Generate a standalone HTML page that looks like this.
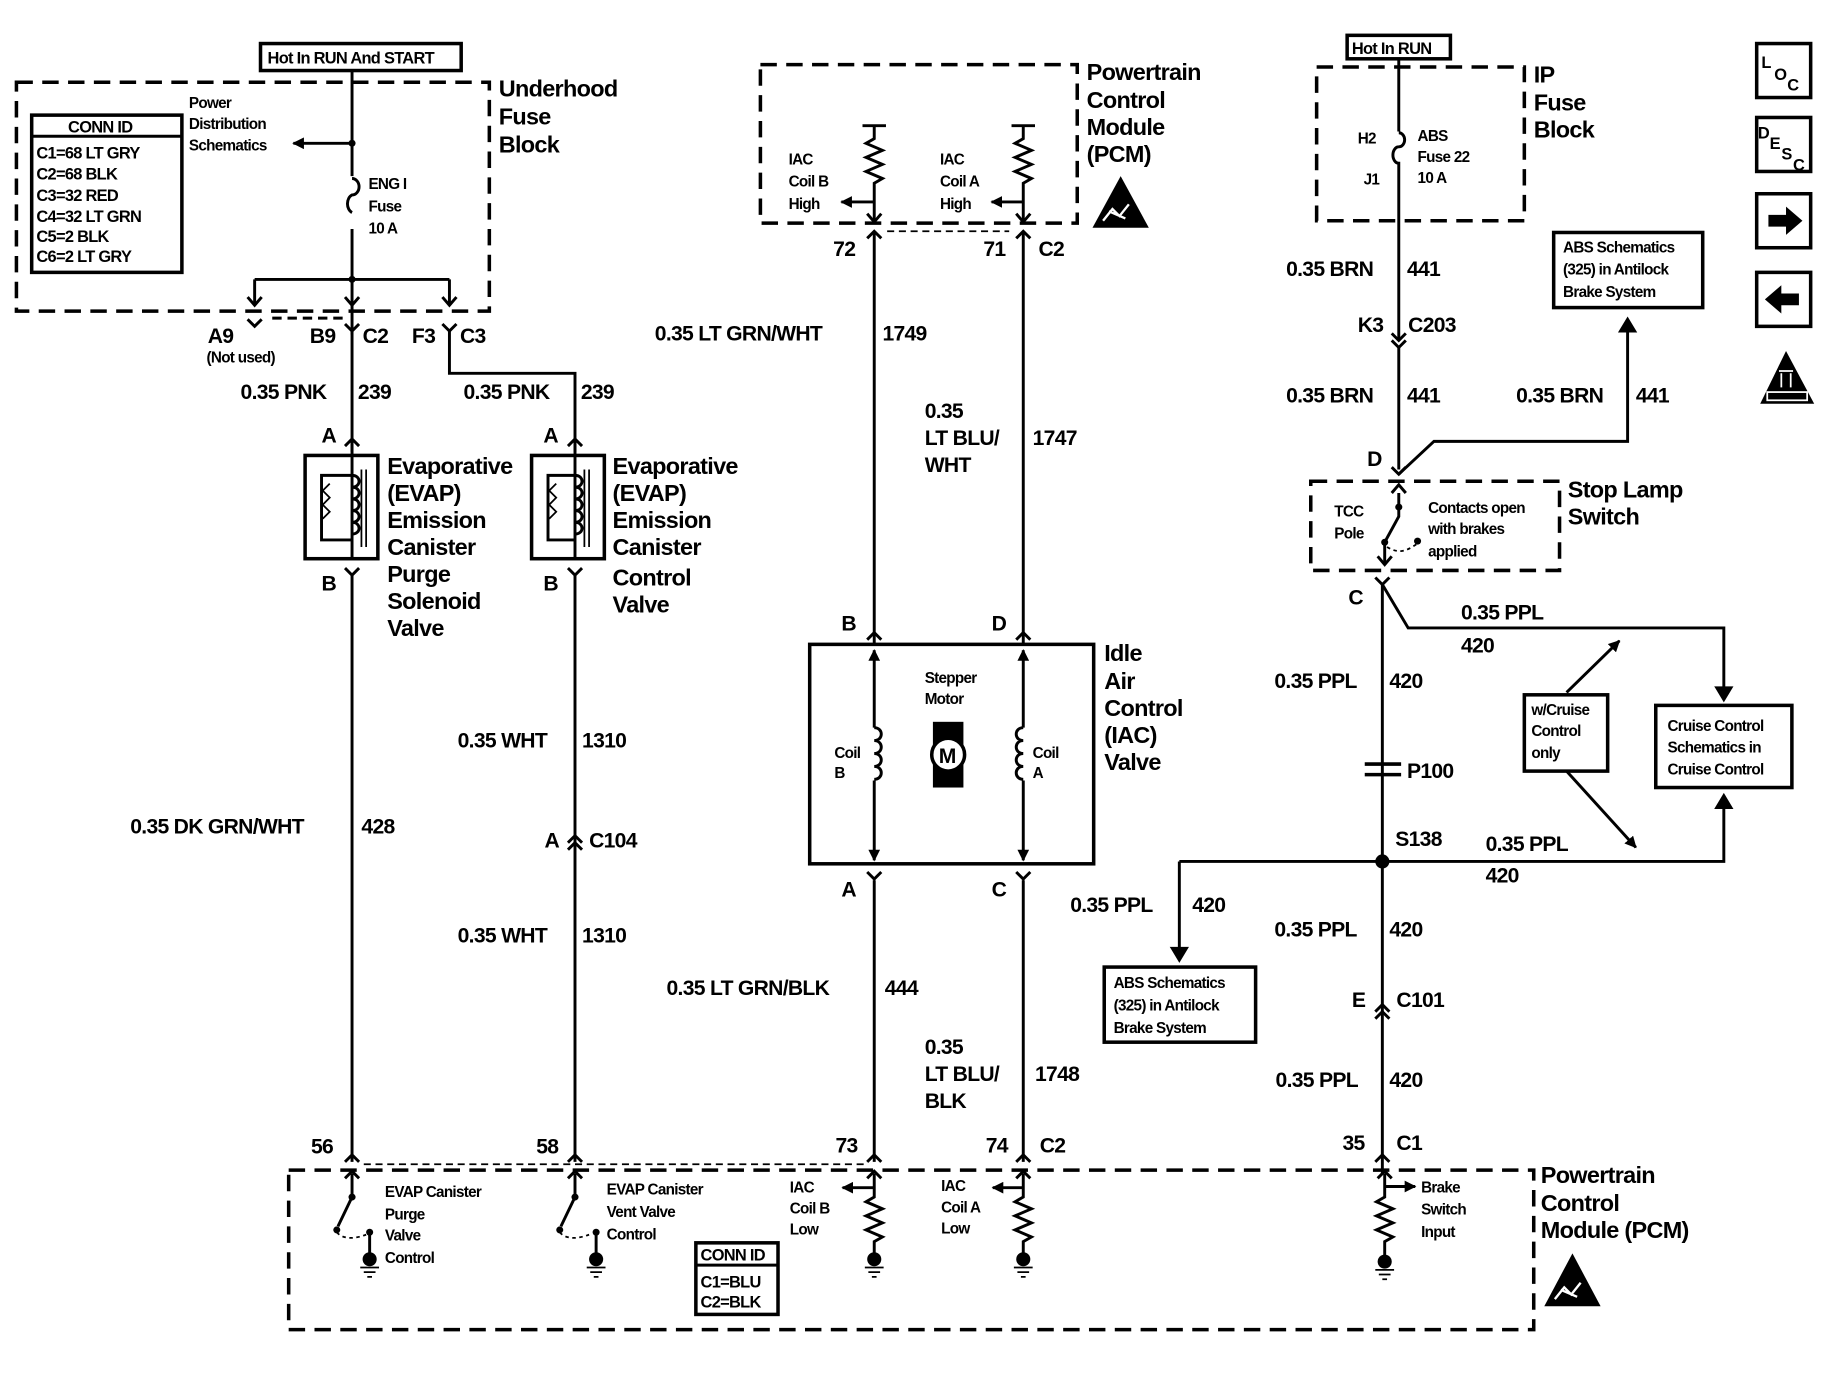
<!DOCTYPE html>
<html><head><meta charset="utf-8"><style>
html,body{margin:0;padding:0;background:#fff;}
svg{display:block}
text{font-family:"Liberation Sans",sans-serif;font-weight:bold;fill:#000;letter-spacing:-0.6px}
.L{font-size:20px}.M{font-size:18px}.S{font-size:14px}.T{font-size:13px}
</style></head><body>
<svg width="1840" height="1392" viewBox="0 0 1568 1186" xmlns="http://www.w3.org/2000/svg">
<defs>
<marker id="ah" markerWidth="10" markerHeight="10" refX="9" refY="5" orient="auto" markerUnits="userSpaceOnUse"><path d="M0,0 L10,5 L0,10 Z" fill="#000"/></marker>
</defs>
<g fill="none" stroke="#000" stroke-width="2.5">
<rect x="222" y="37" width="171" height="23" stroke-width="3"/>
<rect x="14" y="70" width="403" height="195" stroke-dasharray="14,8" stroke-width="3"/>
<rect x="27" y="98" width="128" height="134" stroke-width="3"/>
<line x1="27" y1="116" x2="155" y2="116"/>
<path d="M300 60 V150 M300 195 V285"/>
<path d="M300 152 a6 7 0 0 1 0 14 a6 8 0 0 0 0 15" />
<line x1="300" y1="122" x2="250" y2="122" marker-end="url(#ah)"/>
<path d="M217 238 H383 M217 238 V260 M383 238 V260"/>
<path d="M211 253 l6 7 l6 -7 M294 253 l6 7 l6 -7 M377 253 l6 7 l6 -7"/>
<path d="M211 272 l6 6 l6 -6 M294 276 l6 6 l6 -6 M377 276 l6 6 l6 -6"/>
<path d="M232 271 H294" stroke-dasharray="8,5"/>
<path d="M300 282 V385 M383 282 V318 H490 V385"/>
<rect x="260" y="388" width="62" height="88" stroke-width="3"/>
<rect x="453" y="388" width="62" height="88" stroke-width="3"/>
<path d="M300 376 V476 M490 376 V476"/>
<path d="M294 380 l6 -6 l6 6 M484 380 l6 -6 l6 6 M294 484 l6 6 l6 -6 M484 484 l6 6 l6 -6"/>
<path d="M300 405 H274 V460 H300 M490 405 H467 V460 H490"/>
<path d="M300 405 c8 0 8 10 0 10 c8 0 8 10 0 10 c8 0 8 10 0 10 c8 0 8 10 0 10 c8 0 8 10 0 10 M490 405 c8 0 8 10 0 10 c8 0 8 10 0 10 c8 0 8 10 0 10 c8 0 8 10 0 10 c8 0 8 10 0 10"/>
<path d="M281 412 l-6 6 l6 6 l-6 6 l6 6 l-6 6 M474 412 l-6 6 l6 6 l-6 6 l6 6 l-6 6" stroke-width="1.5"/>
<path d="M308 400 V466 M312 400 V466 M498 400 V466 M502 400 V466" stroke-width="1.5"/>
<path d="M300 490 V990 M490 490 V990"/>
<path d="M484 718 l6 -6 l6 6 M484 724 l6 -6 l6 6"/>
<rect x="648" y="55" width="270" height="135" stroke-dasharray="14,8" stroke-width="3"/>
<path d="M745 108 V118 l-7 4 l14 6 l-14 6 l14 6 l-14 6 l14 6 l-7 4 V190 M872 108 V118 l-7 4 l14 6 l-14 6 l14 6 l-14 6 l14 6 l-7 4 V190"/>
<path d="M735 107 H755 M862 107 H882"/>
<line x1="745" y1="172" x2="717" y2="172" marker-end="url(#ah)"/>
<line x1="872" y1="172" x2="845" y2="172" marker-end="url(#ah)"/>
<path d="M739 182 l6 7 l6 -7 M866 182 l6 7 l6 -7"/>
<path d="M739 203 l6 -6 l6 6 M866 203 l6 -6 l6 6"/>
<path d="M756 197 H860" stroke-dasharray="6,4" stroke-width="1.5"/>
<path d="M745 197 V550 M872 197 V550"/>
<rect x="690" y="549" width="242" height="187" stroke-width="3"/>
<path d="M739 545 l6 -6 l6 6 M866 545 l6 -6 l6 6 M739 743 l6 6 l6 -6 M866 743 l6 6 l6 -6"/>
<line x1="745" y1="620" x2="745" y2="554" marker-end="url(#ah)"/>
<line x1="872" y1="620" x2="872" y2="554" marker-end="url(#ah)"/>
<line x1="745" y1="665" x2="745" y2="733" marker-end="url(#ah)"/>
<line x1="872" y1="665" x2="872" y2="733" marker-end="url(#ah)"/>
<path d="M745 620 c8 0 8 11 0 11 c8 0 8 11 0 11 c8 0 8 11 0 11 c8 0 8 11 0 11 M872 620 c-8 0 -8 11 0 11 c-8 0 -8 11 0 11 c-8 0 -8 11 0 11 c-8 0 -8 11 0 11"/>
<path d="M745 750 V990 M872 750 V990"/>
<rect x="1148" y="30" width="88" height="20" stroke-width="3"/>
<rect x="1122" y="57" width="177" height="131" stroke-dasharray="14,8" stroke-width="3"/>
<path d="M1192 50 V112 M1192 152 V290"/>
<path d="M1192 113 a5 6 0 0 1 0 12 a5 7 0 0 0 0 14 V152"/>
<path d="M1186 284 l6 6 l6 -6 M1186 290 l6 6 l6 -6"/>
<path d="M1192 296 V400"/>
<path d="M1186 398 l6 6 l6 -6"/>
<path d="M1192 404 L1222 376 H1387 V276"/>
<path d="M1381 282 l6 -10 l6 10 Z" fill="#000"/>
<rect x="1117" y="410" width="212" height="76" stroke-dasharray="14,8" stroke-width="3"/>
<path d="M1192 420 V440 L1180 462 V480"/>
<path d="M1186 420 l6 -7 l6 7 M1174 474 l6 7 l6 -7"/>
<path d="M1182 466 c10 6 16 4 26 -3" stroke-dasharray="3,3" stroke-width="1.5"/>
<path d="M1172 492 l6 6 l6 -6"/>
<path d="M1178 498 V1000"/>
<path d="M1178 498 L1200 535 H1469 V590"/>
<path d="M1463 586 l6 10 l6 -10 Z" fill="#000"/>
<path d="M1163 651 H1194 M1163 660 H1194" stroke-width="3"/>
<path d="M1005 734 H1469 V685"/>
<path d="M1463 688 l6 -10 l6 10 Z" fill="#000"/>
<path d="M1005 734 V812"/>
<path d="M999 808 l6 10 l6 -10 Z" fill="#000"/>
<line x1="1335" y1="590" x2="1380" y2="546" marker-end="url(#ah)"/>
<line x1="1335" y1="657" x2="1394" y2="722" marker-end="url(#ah)"/>
<rect x="1299" y="592" width="71" height="65" stroke-width="3"/>
<rect x="1411" y="601" width="116" height="70" stroke-width="3"/>
<rect x="1324" y="198" width="127" height="64" stroke-width="3"/>
<rect x="941" y="824" width="129" height="64" stroke-width="3"/>
<path d="M1172 862 l6 -6 l6 6 M1172 868 l6 -6 l6 6"/>
<rect x="246" y="997" width="1061" height="136" stroke-dasharray="14,8" stroke-width="3"/>
<path d="M294 990 l6 -6 l6 6 M484 990 l6 -6 l6 6 M739 990 l6 -6 l6 6 M866 990 l6 -6 l6 6 M1172 990 l6 -6 l6 6"/>
<path d="M310 992 H738" stroke-dasharray="6,4" stroke-width="1.5"/>
<path d="M300 1000 V1020 L288 1045 M490 1000 V1020 L478 1045"/>
<path d="M294 1004 l6 -6 l6 6 M484 1004 l6 -6 l6 6"/>
<path d="M287 1050 c5 6 15 6 25 2 M477 1050 c5 6 15 6 25 2" stroke-dasharray="3,3" stroke-width="1.5"/>
<path d="M315 1050 V1070 M508 1050 V1070"/>
<path d="M745 1000 V1020 l-7 4 l14 6 l-14 6 l14 6 l-14 6 l14 6 l-7 4 V1070 M872 1000 V1020 l-7 4 l14 6 l-14 6 l14 6 l-14 6 l14 6 l-7 4 V1070 M1180 1000 V1020 l-7 4 l14 6 l-14 6 l14 6 l-14 6 l14 6 l-7 4 V1072"/>
<line x1="745" y1="1012" x2="718" y2="1012" marker-end="url(#ah)"/>
<line x1="872" y1="1012" x2="846" y2="1012" marker-end="url(#ah)"/>
<line x1="1180" y1="1011" x2="1206" y2="1011" marker-end="url(#ah)"/>
<path d="M739 1004 l6 -6 l6 6 M866 1004 l6 -6 l6 6 M1174 1004 l6 -6 l6 6"/>
<path d="M307 1080 H323 M310 1084 H320 M313 1088 H317 M500 1080 H516 M503 1084 H513 M506 1088 H510 M737 1080 H753 M740 1084 H750 M743 1088 H747 M864 1080 H880 M867 1084 H877 M870 1088 H874 M1172 1082 H1188 M1175 1086 H1185 M1178 1090 H1182" stroke-width="1.5"/>
<rect x="593" y="1059" width="70" height="61" stroke-width="3"/>
<line x1="593" y1="1078" x2="663" y2="1078"/>
</g>
<g fill="#000">
<circle cx="300" cy="122" r="3"/><circle cx="300" cy="238" r="3"/>
<circle cx="1178" cy="734" r="6"/>
<rect x="795" y="615" width="26" height="56"/>
<circle cx="808" cy="643" r="14" fill="#fff" stroke="#000" stroke-width="3"/>
<circle cx="315" cy="1073" r="6"/><circle cx="508" cy="1073" r="6"/>
<circle cx="745" cy="1073" r="6"/><circle cx="872" cy="1073" r="6"/><circle cx="1180" cy="1075" r="6"/>
<circle cx="300" cy="1020" r="3"/><circle cx="490" cy="1020" r="3"/><circle cx="287" cy="1048" r="3"/><circle cx="477" cy="1048" r="3"/><circle cx="315" cy="1050" r="3"/><circle cx="508" cy="1050" r="3"/>
<circle cx="1192" cy="432" r="3"/><circle cx="1180" cy="462" r="3"/><circle cx="1208" cy="461" r="3"/>
<path d="M955 150 L931 194 L979 194 Z"/>
<path d="M1340 1068 L1316 1113 L1364 1113 Z"/>
</g>
<g fill="none" stroke="#fff" stroke-width="2">
<path d="M940 188 l8 -10 l6 6 l8 -10 M945 180 l14 6"/>
<path d="M1325 1107 l8 -10 l6 6 l8 -10 M1330 1099 l14 6"/>
</g>
<g fill="none" stroke="#000" stroke-width="3">
<rect x="1497" y="37" width="46" height="46"/>
<rect x="1497" y="100" width="46" height="46"/>
<rect x="1497" y="165" width="46" height="46"/>
<rect x="1497" y="232" width="46" height="46"/>
</g>
<path d="M1507 183 H1522 V176 L1536 188 L1522 200 V193 H1507 Z"/>
<path d="M1533 250 H1518 V243 L1504 255 L1518 267 V260 H1533 Z"/>
<path d="M1522 299 L1500 344 L1546 344 Z"/>
<g fill="none" stroke="#fff" stroke-width="1.5"><path d="M1518 318 V330 M1526 318 V330 M1516 316 H1528"/><rect x="1506" y="334" width="34" height="7"/></g>
<text x="1501" y="58" class="S">L</text><text x="1512" y="68" class="S">O</text><text x="1523" y="77" class="S">C</text>
<text x="1498" y="118" class="S">D</text><text x="1508" y="127" class="S">E</text><text x="1518" y="136" class="S">S</text><text x="1528" y="145" class="S">C</text>
<text x="228" y="54" class="S">Hot In RUN And START</text>
<text x="425" y="82" class="L">Underhood</text><text x="425" y="106" class="L">Fuse</text><text x="425" y="130" class="L">Block</text>
<text x="58" y="113" class="S">CONN ID</text>
<text x="31" y="135" class="S">C1=68 LT GRY</text><text x="31" y="153" class="S">C2=68 BLK</text><text x="31" y="171" class="S">C3=32 RED</text><text x="31" y="189" class="S">C4=32 LT GRN</text><text x="31" y="206" class="S">C5=2 BLK</text><text x="31" y="223" class="S">C6=2 LT GRY</text>
<text x="161" y="92" class="T">Power</text><text x="161" y="110" class="T">Distribution</text><text x="161" y="128" class="T">Schematics</text>
<text x="314" y="161" class="T">ENG I</text><text x="314" y="180" class="T">Fuse</text><text x="314" y="199" class="T">10 A</text>
<text x="177" y="292" class="M">A9</text><text x="176" y="309" class="T">(Not used)</text>
<text x="264" y="292" class="M">B9</text><text x="309" y="292" class="M">C2</text><text x="351" y="292" class="M">F3</text><text x="392" y="292" class="M">C3</text>
<text x="205" y="340" class="M">0.35 PNK</text><text x="305" y="340" class="M">239</text>
<text x="395" y="340" class="M">0.35 PNK</text><text x="495" y="340" class="M">239</text>
<text x="274" y="377" class="M">A</text><text x="463" y="377" class="M">A</text>
<text x="274" y="503" class="M">B</text><text x="463" y="503" class="M">B</text>
<text x="330" y="404" class="L">Evaporative</text><text x="330" y="427" class="L">(EVAP)</text><text x="330" y="450" class="L">Emission</text><text x="330" y="473" class="L">Canister</text><text x="330" y="496" class="L">Purge</text><text x="330" y="519" class="L">Solenoid</text><text x="330" y="542" class="L">Valve</text>
<text x="522" y="404" class="L">Evaporative</text><text x="522" y="427" class="L">(EVAP)</text><text x="522" y="450" class="L">Emission</text><text x="522" y="473" class="L">Canister</text><text x="522" y="499" class="L">Control</text><text x="522" y="522" class="L">Valve</text>
<text x="111" y="710" class="M">0.35 DK GRN/WHT</text><text x="308" y="710" class="M">428</text>
<text x="390" y="637" class="M">0.35 WHT</text><text x="496" y="637" class="M">1310</text>
<text x="464" y="722" class="M">A</text><text x="502" y="722" class="M">C104</text>
<text x="390" y="803" class="M">0.35 WHT</text><text x="496" y="803" class="M">1310</text>
<text x="265" y="983" class="M">56</text><text x="457" y="983" class="M">58</text>
<text x="328" y="1020" class="T">EVAP Canister</text><text x="328" y="1039" class="T">Purge</text><text x="328" y="1057" class="T">Valve</text><text x="328" y="1076" class="T">Control</text>
<text x="517" y="1018" class="T">EVAP Canister</text><text x="517" y="1037" class="T">Vent Valve</text><text x="517" y="1056" class="T">Control</text>
<text x="597" y="1074" class="S">CONN ID</text><text x="597" y="1097" class="S">C1=BLU</text><text x="597" y="1114" class="S">C2=BLK</text>
<text x="673" y="1016" class="T">IAC</text><text x="673" y="1034" class="T">Coil B</text><text x="673" y="1052" class="T">Low</text>
<text x="802" y="1015" class="T">IAC</text><text x="802" y="1033" class="T">Coil A</text><text x="802" y="1051" class="T">Low</text>
<text x="1313" y="1008" class="L">Powertrain</text><text x="1313" y="1032" class="L">Control</text><text x="1313" y="1055" class="L">Module (PCM)</text>
<text x="1211" y="1016" class="T">Brake</text><text x="1211" y="1035" class="T">Switch</text><text x="1211" y="1054" class="T">Input</text>
<text x="926" y="68" class="L">Powertrain</text><text x="926" y="92" class="L">Control</text><text x="926" y="115" class="L">Module</text><text x="926" y="138" class="L">(PCM)</text>
<text x="672" y="140" class="T">IAC</text><text x="672" y="159" class="T">Coil B</text><text x="672" y="178" class="T">High</text>
<text x="801" y="140" class="T">IAC</text><text x="801" y="159" class="T">Coil A</text><text x="801" y="178" class="T">High</text>
<text x="710" y="218" class="M">72</text><text x="838" y="218" class="M">71</text><text x="885" y="218" class="M">C2</text>
<text x="558" y="290" class="M">0.35 LT GRN/WHT</text><text x="752" y="290" class="M">1749</text>
<text x="788" y="356" class="M">0.35</text><text x="788" y="379" class="M">LT BLU/</text><text x="788" y="402" class="M">WHT</text><text x="880" y="379" class="M">1747</text>
<text x="717" y="537" class="M">B</text><text x="845" y="537" class="M">D</text>
<text x="717" y="764" class="M">A</text><text x="845" y="764" class="M">C</text>
<text x="941" y="563" class="L">Idle</text><text x="941" y="587" class="L">Air</text><text x="941" y="610" class="L">Control</text><text x="941" y="633" class="L">(IAC)</text><text x="941" y="656" class="L">Valve</text>
<text x="788" y="582" class="T">Stepper</text><text x="788" y="600" class="T">Motor</text>
<text x="800" y="650" class="M">M</text>
<text x="711" y="646" class="T">Coil</text><text x="711" y="663" class="T">B</text>
<text x="880" y="646" class="T">Coil</text><text x="880" y="663" class="T">A</text>
<text x="568" y="848" class="M">0.35 LT GRN/BLK</text><text x="754" y="848" class="M">444</text>
<text x="788" y="898" class="M">0.35</text><text x="788" y="921" class="M">LT BLU/</text><text x="788" y="944" class="M">BLK</text><text x="882" y="921" class="M">1748</text>
<text x="712" y="982" class="M">73</text><text x="840" y="982" class="M">74</text><text x="886" y="982" class="M">C2</text>
<text x="1152" y="46" class="S">Hot In RUN</text>
<text x="1307" y="70" class="L">IP</text><text x="1307" y="94" class="L">Fuse</text><text x="1307" y="117" class="L">Block</text>
<text x="1157" y="122" class="T">H2</text><text x="1162" y="157" class="T">J1</text>
<text x="1208" y="120" class="T">ABS</text><text x="1208" y="138" class="T">Fuse 22</text><text x="1208" y="156" class="T">10 A</text>
<text x="1096" y="235" class="M">0.35 BRN</text><text x="1199" y="235" class="M">441</text>
<text x="1157" y="283" class="M">K3</text><text x="1200" y="283" class="M">C203</text>
<text x="1096" y="343" class="M">0.35 BRN</text><text x="1199" y="343" class="M">441</text>
<text x="1292" y="343" class="M">0.35 BRN</text><text x="1394" y="343" class="M">441</text>
<text x="1332" y="215" class="T">ABS Schematics</text><text x="1332" y="234" class="T">(325) in Antilock</text><text x="1332" y="253" class="T">Brake System</text>
<text x="1165" y="397" class="M">D</text>
<text x="1336" y="424" class="L">Stop Lamp</text><text x="1336" y="447" class="L">Switch</text>
<text x="1137" y="440" class="T">TCC</text><text x="1137" y="459" class="T">Pole</text>
<text x="1217" y="437" class="T">Contacts open</text><text x="1217" y="455" class="T">with brakes</text><text x="1217" y="474" class="T">applied</text>
<text x="1149" y="515" class="M">C</text>
<text x="1245" y="528" class="M">0.35 PPL</text><text x="1245" y="556" class="M">420</text>
<text x="1086" y="586" class="M">0.35 PPL</text><text x="1184" y="586" class="M">420</text>
<text x="1199" y="663" class="M">P100</text>
<text x="1189" y="721" class="M">S138</text>
<text x="1266" y="725" class="M">0.35 PPL</text><text x="1266" y="752" class="M">420</text>
<text x="912" y="777" class="M">0.35 PPL</text><text x="1016" y="777" class="M">420</text>
<text x="1086" y="798" class="M">0.35 PPL</text><text x="1184" y="798" class="M">420</text>
<text x="1152" y="858" class="M">E</text><text x="1190" y="858" class="M">C101</text>
<text x="1087" y="926" class="M">0.35 PPL</text><text x="1184" y="926" class="M">420</text>
<text x="1144" y="980" class="M">35</text><text x="1190" y="980" class="M">C1</text>
<text x="1305" y="609" class="T">w/Cruise</text><text x="1305" y="627" class="T">Control</text><text x="1305" y="646" class="T">only</text>
<text x="1421" y="623" class="T">Cruise Control</text><text x="1421" y="641" class="T">Schematics in</text><text x="1421" y="660" class="T">Cruise Control</text>
<text x="949" y="842" class="T">ABS Schematics</text><text x="949" y="861" class="T">(325) in Antilock</text><text x="949" y="880" class="T">Brake System</text>
</svg>
</body></html>
